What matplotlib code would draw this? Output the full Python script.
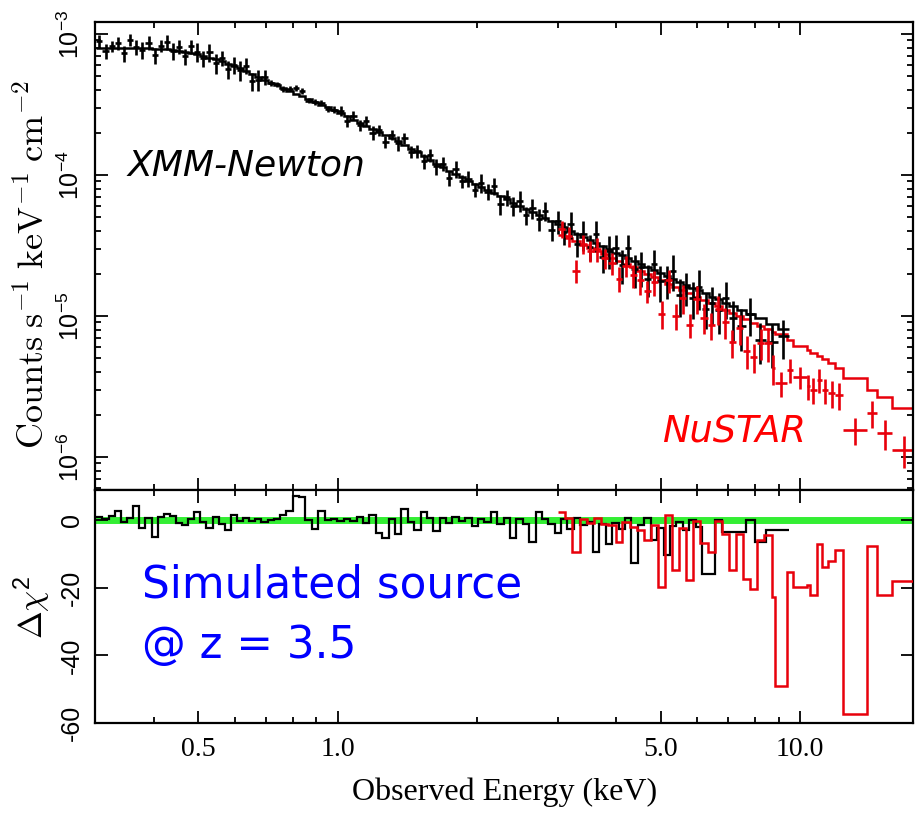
import numpy as np
import matplotlib.pyplot as plt
from matplotlib.ticker import LogLocator, NullFormatter

plt.rcParams['font.family'] = ['Liberation Sans', 'DejaVu Sans']
plt.rcParams['mathtext.default'] = 'regular'

# XMM-Newton spectrum: bin centres (keV), flux in units of 1e-5 counts/s/keV/cm2
xmm_energy = [0.305, 0.315, 0.325, 0.335, 0.345, 0.356, 0.367, 0.378, 0.390, 0.402,
              0.414, 0.427, 0.440, 0.454, 0.468, 0.482, 0.497, 0.512, 0.528, 0.545,
              0.562, 0.579, 0.597, 0.615, 0.634, 0.654, 0.674, 0.695, 0.717, 0.740,
              0.763, 0.787, 0.812, 0.838, 0.865, 0.893, 0.922, 0.952, 0.983, 1.015,
              1.048, 1.082, 1.117, 1.153, 1.190, 1.228, 1.268, 1.309, 1.351, 1.395,
              1.440, 1.487, 1.535, 1.585, 1.636, 1.689, 1.744, 1.800, 1.858, 1.918,
              1.980, 2.044, 2.110, 2.178, 2.249, 2.322, 2.397, 2.475, 2.555, 2.638,
              2.723, 2.811, 2.902, 2.996, 3.09, 3.19, 3.29, 3.40, 3.51, 3.62,
              3.74, 3.86, 3.99, 4.12, 4.25, 4.39, 4.53, 4.68, 4.83, 4.99,
              5.15, 5.32, 5.49, 5.67, 5.86, 6.05, 6.25, 6.46, 6.67, 6.90,
              7.15, 7.45, 7.80, 8.20, 8.70, 9.20]
xmm_model = [79.4, 79.4, 79.4, 79.4, 79.4, 79.4, 79.4, 79.2, 79.0, 78.7,
             78.3, 77.8, 77.3, 76.0, 74.8, 73.4, 71.9, 70.0, 68.0, 66.0,
             63.8, 61.5, 59.3, 57.2, 54.9, 52.0, 49.6, 47.3, 45.2, 43.2,
             41.3, 39.4, 37.8, 36.2, 34.6, 33.1, 31.6, 30.1, 28.8, 27.3,
             26.0, 24.7, 23.5, 22.3, 21.2, 20.15, 19.1, 18.2, 17.3, 16.4,
             15.4, 14.5, 13.6, 12.8, 12.0, 11.4, 10.7, 10.1, 9.60, 9.11,
             8.66, 8.23, 7.83, 7.44, 7.06, 6.71, 6.38, 6.05, 5.76, 5.47,
             5.21, 4.95, 4.70, 4.47, 4.25, 4.03, 3.84, 3.65, 3.46, 3.30,
             3.13, 2.97, 2.82, 2.69, 2.57, 2.44, 2.34, 2.23, 2.12, 2.02,
             1.93, 1.84, 1.75, 1.67, 1.59, 1.52, 1.445, 1.375, 1.31, 1.24,
             1.18, 1.11, 1.035, 0.966, 0.879, 0.803]
xmm_flux = [88.9, 75.4, 81.8, 85.8, 73.0, 91.3, 81.0, 76.8, 86.9, 70.8,
            82.2, 87.9, 75.8, 81.3, 69.6, 81.5, 74.8, 67.2, 74.1, 62.0,
            67.6, 56.0, 60.5, 55.5, 59.3, 46.3, 47.1, 49.2, 44.7, 44.1,
            40.5, 41.0, 41.6, 39.5, 33.6, 33.1, 32.5, 29.5, 29.1, 28.4,
            24.2, 26.4, 22.6, 24.3, 19.9, 20.8, 17.2, 19.3, 16.8, 18.2,
            14.6, 14.8, 12.5, 13.8, 11.5, 12.0, 9.52, 11.1, 9.02, 9.38,
            7.88, 8.81, 7.60, 8.33, 6.21, 6.98, 6.06, 6.59, 5.18, 5.80,
            4.85, 5.59, 4.09, 4.69, 3.91, 4.51, 3.26, 3.83, 3.11, 3.80,
            2.60, 2.91, 3.05, 2.31, 3.03, 2.15, 2.22, 1.83, 2.33, 1.76,
            1.79, 2.10, 1.40, 1.60, 1.35, 1.61, 1.13, 1.24, 1.10, 1.34,
            0.968, 0.844, 1.035, 0.676, 0.650, 0.720]
xmm_relerr = [0.10, 0.12, 0.09, 0.11, 0.13, 0.10, 0.12, 0.14, 0.11, 0.13,
              0.10, 0.12, 0.14, 0.11, 0.13, 0.12, 0.15, 0.13, 0.14, 0.16,
              0.12, 0.15, 0.14, 0.16, 0.13, 0.15, 0.17, 0.12, 0.05, 0.04,
              0.05, 0.04, 0.05, 0.05, 0.04, 0.05, 0.04, 0.05, 0.06, 0.08,
              0.10, 0.07, 0.09, 0.08, 0.11, 0.09, 0.10, 0.08, 0.12, 0.09,
              0.10, 0.11, 0.12, 0.10, 0.13, 0.11, 0.12, 0.14, 0.11, 0.13,
              0.12, 0.15, 0.13, 0.14, 0.16, 0.13, 0.15, 0.17, 0.14, 0.16,
              0.18, 0.15, 0.17, 0.19, 0.18, 0.22, 0.20, 0.24, 0.21, 0.25,
              0.22, 0.26, 0.23, 0.27, 0.24, 0.26, 0.28, 0.25, 0.27, 0.29,
              0.26, 0.28, 0.30, 0.27, 0.29, 0.31, 0.28, 0.30, 0.32, 0.29,
              0.31, 0.33, 0.30, 0.32, 0.34, 0.31]
xmm_dchi = [0.8, 0.3, 1.2, 2.8, -0.5, 0.5, 4.1, -2.3, 0.6, -4.9,
            0.8, 1.8, 1.2, -0.8, -1.3, 0.4, 2.5, -0.6, -2.3, 0.9,
            -1.0, -3.0, 1.5, -0.4, 0.6, -0.3, 0.2, -0.5, 0.0, 0.4,
            1.5, 2.8, 7.2, 6.8, 0.1, -2.7, 2.7, 0.0, 0.2, -0.2,
            0.3, -0.4, 1.0, -0.8, 1.5, -3.9, -5.2, 0.2, -4.0, 3.3,
            -0.5, -2.8, 2.3, 0.5, -3.2, 0.6, -0.8, 0.9, -0.4, 0.5,
            -1.7, 0.3, -0.6, 2.3, -1.2, 0.7, -5.4, 0.4, -1.0, -6.4,
            2.3, 0.2, -1.2, -3.9, 0.3, -2.5, 0.6, -1.5, -0.5, -9.4,
            -1.0, -7.0, -0.8, -2.6, 0.5, -12.8, -1.4, 0.5, -5.9, -2.2,
            -10.4, -1.8, -0.5, -3.0, 0.0, -2.0, -15.8, -15.8, 0.0, -3.5,
            -3.5, -3.5, 0.0, -6.4, -3.0, -3.0]

# NuSTAR spectrum: bin edges (keV), flux in 1e-5 units
nu_edges = [3.00, 3.11, 3.22, 3.34, 3.46, 3.58, 3.71, 3.85, 3.99, 4.13,
            4.28, 4.43, 4.59, 4.76, 4.93, 5.11, 5.29, 5.48, 5.68, 5.88,
            6.09, 6.31, 6.54, 6.78, 7.02, 7.27, 7.53, 7.80, 8.08, 8.37,
            8.69, 8.83, 9.36, 9.67, 10.34, 10.51, 10.86, 11.14, 11.51, 11.90,
            12.37, 13.93, 14.69, 15.83, 17.73]
nu_model = [3.76, 3.56, 3.38, 3.20, 3.04, 2.88, 2.73, 2.59, 2.45, 2.33,
            2.21, 2.10, 1.99, 1.88, 1.79, 1.69, 1.61, 1.52, 1.445, 1.37,
            1.30, 1.23, 1.17, 1.11, 1.05, 0.997, 0.946, 0.897, 0.851, 0.805,
            0.774, 0.745, 0.681, 0.612, 0.574, 0.551, 0.520, 0.495, 0.464, 0.428,
            0.361, 0.299, 0.268, 0.221]
nu_flux = [4.14, 3.67, 2.10, 3.26, 2.89, 3.00, 2.57, 2.38, 1.84, 2.26,
           1.94, 1.79, 1.51, 1.73, 1.04, 1.79, 1.00, 1.34, 0.867, 1.33,
           0.975, 0.861, 1.13, 0.910, 0.651, 0.818, 0.568, 0.511, 0.647, 0.644,
           0.426, 0.335, 0.414, 0.369, 0.319, 0.299, 0.352, 0.299, 0.284, 0.275,
           0.155, 0.205, 0.148, 0.112]
nu_relerr = [0.14, 0.16, 0.18, 0.15, 0.17, 0.19, 0.16, 0.18, 0.20, 0.17,
             0.19, 0.21, 0.18, 0.20, 0.22, 0.19, 0.21, 0.23, 0.20, 0.22,
             0.24, 0.21, 0.23, 0.25, 0.22, 0.24, 0.26, 0.23, 0.25, 0.27,
             0.24, 0.20, 0.19, 0.18, 0.20, 0.21, 0.19, 0.20, 0.22, 0.21,
             0.22, 0.22, 0.24, 0.25]
nu_dchi = [2.5, 0.5, -9.4, 0.3, -0.8, 0.5, -1.0, -1.5, -6.4, -0.5,
           -2.0, -3.0, -5.9, -1.4, -19.8, 1.5, -14.8, -2.3, -17.6, -0.4,
           -6.9, -9.4, -0.4, -4.0, -14.8, -4.0, -17.3, -20.3, -5.9, -4.4,
           -22.8, -49.0, -15.4, -19.9, -19.3, -22.2, -7.1, -13.8, -12.1, -8.9,
           -57.3, -7.7, -22.2, -18.0]

RED = '#e8000b'
unit = 1e-5

# bin edges of the xmm bins from the centres
xe = np.array(xmm_energy)
mid = np.sqrt(xe[:-1] * xe[1:])
xmm_edges = np.concatenate([[xe[0] ** 2 / mid[0]], mid, [xe[-1] ** 2 / mid[-1]]])
xf = np.array(xmm_flux) * unit
xm = np.array(xmm_model) * unit

ne = np.array(nu_edges)
nc = np.sqrt(ne[:-1] * ne[1:])
nf = np.array(nu_flux) * unit
nm = np.array(nu_model) * unit

fig = plt.figure(figsize=(9.17, 8.14), dpi=100)
ax1 = fig.add_axes([0.1036, 0.398, 0.892, 0.575])
ax2 = fig.add_axes([0.1036, 0.1118, 0.892, 0.2862], sharex=ax1)

# top panel: spectra
ax1.errorbar(xe, xf, xerr=[xe - xmm_edges[:-1], xmm_edges[1:] - xe],
             yerr=xf * np.array(xmm_relerr), fmt='none', ecolor='black', elinewidth=1.9)
ax1.errorbar(nc, nf, xerr=[nc - ne[:-1], ne[1:] - nc],
             yerr=nf * np.array(nu_relerr), fmt='none', ecolor=RED, elinewidth=1.9)
ax1.stairs(nm, ne, baseline=None, color=RED, lw=1.8)
ax1.stairs(xm, xmm_edges, baseline=None, color='black', lw=1.8)

ax1.set_xscale('log')
ax1.set_yscale('log')
ax1.set_xlim(0.2987, 17.55)
ax1.set_ylim(10 ** -6.234, 10 ** -2.915)
ax1.set_yticks([1e-6, 1e-5, 1e-4, 1e-3])
ax1.set_yticklabels([r'10$^{-6}$', r'10$^{-5}$', r'10$^{-4}$', r'10$^{-3}$'],
                    rotation=90, va='center', fontsize=18)
ax1.yaxis.set_minor_locator(LogLocator(base=10, subs=np.arange(2, 10)))
ax1.yaxis.set_minor_formatter(NullFormatter())

# bottom panel: delta chi^2
ax2.axhline(0, color='#33ee33', lw=5, zorder=1)
ax2.stairs(xmm_dchi, xmm_edges, baseline=None, color='black', lw=1.6, zorder=3)
ax2.stairs(nu_dchi, ne, baseline=None, color=RED, lw=1.8, zorder=4)
ax2.set_ylim(-60, 8.9)
ax2.set_yticks([0, -20, -40, -60])
ax2.set_yticklabels(['0', '-20', '-40', '-60'], rotation=90, va='center', fontsize=18)

ax2.set_xticks([0.5, 1, 5, 10])
ax2.set_xticks([0.4, 0.6, 0.7, 0.8, 0.9, 2, 3, 4, 6, 7, 8, 9], minor=True)
ax2.set_xticklabels(['0.5', '1.0', '5.0', '10.0'], fontfamily='Liberation Serif', fontsize=20)
ax2.xaxis.set_minor_formatter(NullFormatter())
ax1.tick_params(labelbottom=False)

for ax in (ax1, ax2):
    ax.tick_params(which='both', direction='in', top=True, right=True, width=1.3, pad=8)
    ax.tick_params(which='major', length=9)
    ax.tick_params(which='minor', length=4.5)
    for s in ax.spines.values():
        s.set_linewidth(1.6)
ax2.tick_params(axis='x', pad=10)

# axis labels
fig.text(34 / 917, 1 - 265 / 814, r'$\mathrm{Counts\;s^{-1}\;keV^{-1}\;cm^{-2}}$',
         rotation=90, ha='center', va='center', fontsize=26, math_fontfamily='cm')
fig.text(32 / 917, 1 - 607 / 814, r'$\mathrm{\Delta}\mathit{\chi}^{2}$', rotation=90,
         ha='center', va='center', fontsize=24, math_fontfamily='cm')
fig.text(505 / 917, 1 - 792 / 814, 'Observed Energy (keV)', ha='center', va='center',
         fontsize=23, family='Liberation Serif')

# annotations
fig.text(128 / 917, 1 - 166 / 814, 'XMM-Newton', fontsize=26, style='italic',
         family='DejaVu Sans', ha='left', va='center')
fig.text(662 / 917, 1 - 432 / 814, 'NuSTAR', fontsize=26.5, style='italic', color='#ff0000',
         family='DejaVu Sans', ha='left', va='center')
fig.text(142 / 917, 1 - 585 / 814, 'Simulated source', fontsize=31.5, color='#0000ff',
         family='DejaVu Sans', ha='left', va='center')
fig.text(142 / 917, 1 - 646 / 814, '@ z = 3.5', fontsize=31.5, color='#0000ff',
         family='DejaVu Sans', ha='left', va='center')

fig.savefig('out.png', dpi=100)
